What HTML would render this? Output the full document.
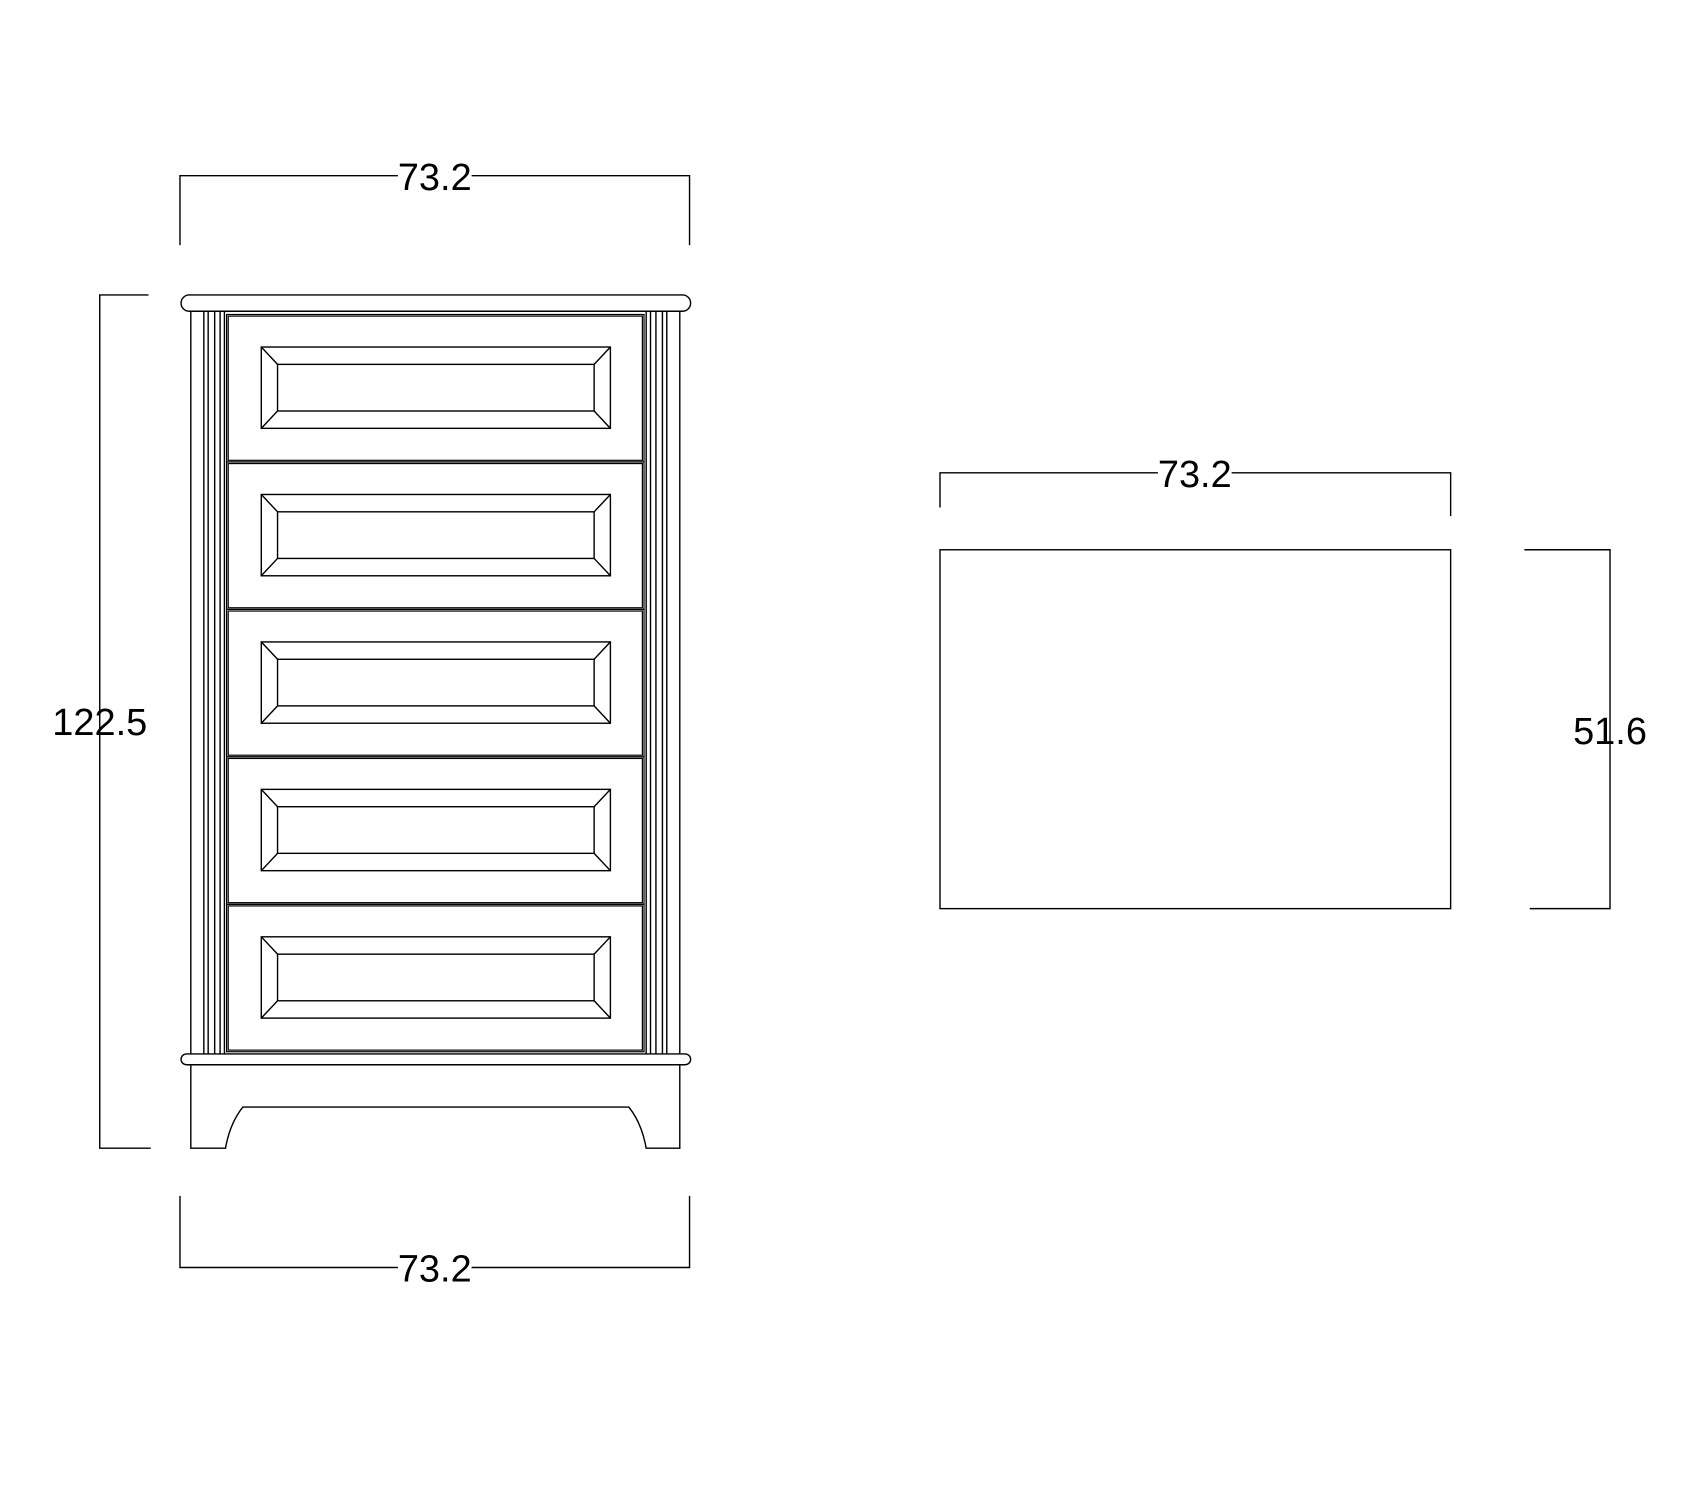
<!DOCTYPE html>
<html><head><meta charset="utf-8"><style>html,body{margin:0;padding:0;background:#fff}svg{display:block}</style></head><body>
<svg width="1700" height="1492" viewBox="0 0 1568 1376" xmlns="http://www.w3.org/2000/svg" font-family="Liberation Sans, Arial, sans-serif">
<g fill="none" stroke="#000" stroke-width="1.3">
<path d="M166 226V162H636V226"/>
<path d="M137 272H92V1059H139"/>
<path d="M166 1103V1169H636V1103"/>
<rect x="167" y="272" width="470" height="15" rx="7.5"/>
<path d="M176 287V972M188 287V972M192 287V972M198 287V972M203 287V972M207 287V972"/>
<path d="M627 287V972M615 287V972M611 287V972M605 287V972M600 287V972M596 287V972"/>
<rect x="167" y="972" width="470" height="10" rx="5"/>
<path d="M176 982V1059H208Q212 1036 224 1021H580Q592 1036 596 1059H627V982"/>
</g>
<g fill="none" stroke="#000" stroke-width="1.1">
<rect x="209" y="290" width="385" height="136"/><rect x="210.5" y="291.5" width="382" height="133"/>
<rect x="209" y="426" width="385" height="136"/><rect x="210.5" y="427.5" width="382" height="133"/>
<rect x="209" y="562" width="385" height="136"/><rect x="210.5" y="563.5" width="382" height="133"/>
<rect x="209" y="698" width="385" height="136"/><rect x="210.5" y="699.5" width="382" height="133"/>
<rect x="209" y="834" width="385" height="136"/><rect x="210.5" y="835.5" width="382" height="133"/>
</g>
<g fill="none" stroke="#000" stroke-width="1.3">
<g id="p"><rect x="241" y="320" width="322" height="75"/><rect x="256" y="336" width="292" height="43"/><path d="M241 320L256 336M563 320L548 336M241 395L256 379M563 395L548 379"/></g>
<use href="#p" y="136"/><use href="#p" y="272"/><use href="#p" y="408"/><use href="#p" y="544"/>
</g>
<g fill="none" stroke="#000" stroke-width="1.3">
<rect x="867" y="507" width="471" height="331"/>
<path d="M867 468V436H1338V476"/>
<path d="M1406 507H1485V838H1411"/>
</g>
<g font-size="35" text-anchor="middle" fill="#000">
<rect x="367" y="146" width="68" height="30" fill="#fff"/><text x="401" y="175">73.2</text>
<rect x="367" y="1155" width="68" height="30" fill="#fff"/><text x="401" y="1182">73.2</text>
<rect x="1068" y="421" width="68" height="30" fill="#fff"/><text x="1102" y="449">73.2</text>
<text x="92" y="678">122.5</text>
<text x="1485" y="686">51.6</text>
</g>
</svg>
</body></html>
